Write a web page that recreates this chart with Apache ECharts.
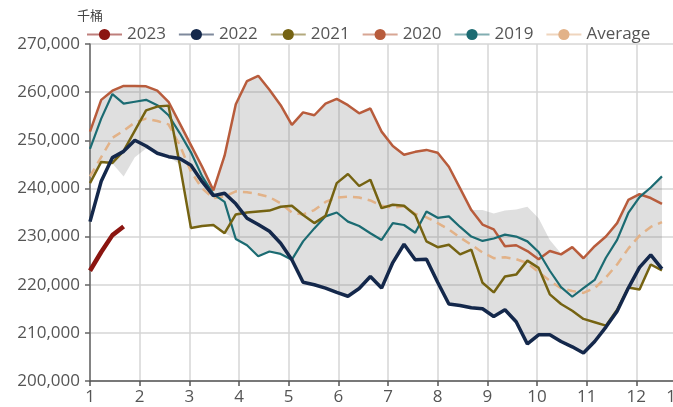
<!DOCTYPE html>
<html><head><meta charset="utf-8">
<script src="https://cdn.jsdelivr.net/npm/echarts@6/dist/echarts.min.js"></script>
<style>html,body{margin:0;padding:0;background:#fff;overflow:hidden}#c{width:700px;height:407px}</style>
</head><body><div id="c"></div>
<script>
const seriesNames = ['2023','2022','2021','2020','2019','Average'];
const monthTicks = [1,2,3,4,5,6,7,8,9,10,11,12,13];
const unitLabel = '千桶';

const y2023 = [222900, 226800, 230300, 232100];
const y2022 = [233100, 241500, 246400, 247700, 250000, 248800, 247300, 246600, 246200, 244800, 241400, 238500, 239000, 236800, 233800, 232500, 231100, 228600, 225200, 220500, 220000, 219300, 218400, 217600, 219200, 221700, 219300, 224600, 228400, 225200, 225300, 220500, 216000, 215700, 215200, 215000, 213400, 214800, 212300, 207700, 209600, 209600, 208200, 207100, 205800, 208200, 211200, 214500, 219300, 223600, 226200, 223300];
const y2021 = [241100, 245500, 245300, 247800, 252000, 256200, 257000, 257200, 245000, 231800, 232200, 232400, 230700, 234600, 235000, 235200, 235400, 236200, 236400, 234500, 232800, 234300, 241100, 243000, 240500, 241800, 235900, 236600, 236400, 234500, 229000, 227800, 228300, 226300, 227300, 220400, 218400, 221700, 222100, 225000, 223500, 218000, 216000, 214600, 212900, 212200, 211500, 214800, 219400, 219000, 224200, 223000];
const y2020 = [251800, 258400, 260300, 261300, 261300, 261200, 260300, 258000, 253500, 249000, 244500, 239600, 246800, 257500, 262300, 263400, 260500, 257300, 253200, 255800, 255200, 257600, 258600, 257300, 255600, 256600, 251800, 248800, 247000, 247600, 248000, 247400, 244500, 240000, 235500, 232500, 231500, 228000, 228200, 227000, 225300, 227000, 226300, 227800, 225500, 228000, 230000, 232800, 237600, 238800, 238000, 236800];
const y2019 = [248200, 254500, 259600, 257600, 258000, 258400, 257300, 255200, 251500, 247500, 242500, 238800, 237200, 229500, 228200, 225900, 226900, 226400, 225200, 229000, 231700, 234200, 235000, 233100, 232200, 230700, 229300, 232800, 232400, 230800, 235200, 233900, 234200, 232000, 230000, 229100, 229600, 230400, 230000, 229000, 226800, 222900, 219500, 217500, 219300, 221000, 225600, 229300, 234900, 238200, 240200, 242500];
const yAvg = [242500, 246500, 250500, 252000, 253700, 254500, 254000, 253300, 249000, 243500, 240000, 238000, 238300, 239400, 239200, 238800, 238200, 236900, 235000, 234600, 235500, 237200, 238100, 238300, 238100, 237500, 236400, 236000, 236300, 234700, 234000, 232800, 231500, 229800, 228300, 226700, 225500, 225700, 225300, 224500, 222600, 220800, 219300, 218700, 218300, 219300, 221500, 224200, 227500, 230200, 232000, 233000];
const bandHigh = [251800, 258400, 260300, 261300, 261300, 261200, 260300, 258000, 253500, 249000, 244500, 239600, 246800, 257500, 262300, 263400, 260500, 257300, 253200, 255800, 255200, 257600, 258600, 257300, 255600, 256600, 251800, 248800, 247000, 247600, 248000, 247400, 244500, 240000, 235500, 235500, 234800, 235400, 235600, 236200, 233800, 229300, 226500, 227800, 225500, 228000, 230000, 232800, 237600, 238800, 240200, 242500];
const bandLow = [241100, 245400, 245200, 242500, 246500, 248300, 247300, 246600, 245000, 232000, 232200, 232400, 230700, 229500, 228200, 225900, 226900, 226400, 225200, 220500, 220000, 219300, 218400, 217600, 219200, 221700, 219300, 224600, 228400, 225200, 225300, 220500, 216000, 215700, 215200, 215000, 213400, 214800, 212300, 207700, 209600, 209600, 208200, 207100, 205800, 208200, 211200, 214500, 219300, 219000, 224200, 223000];

// week index -> month position (one week = 7/31 of a month)
const xOf = i => 1 + i * 7 / 31;
const pairs = arr => arr.map((v, i) => [xOf(i), v]);

const colors = ['#8b1510', '#14284b', '#756312', '#b85c3c', '#1b6b72', '#e2b288'];
const widths = [4.5, 3.5, 2.5, 2.5, 2.2, 2.5];
const datas = [y2023, y2022, y2021, y2020, y2019, yAvg];
const FONT = 'Open Sans';

const lineSeries = datas.map((d, k) => ({
  name: seriesNames[k], type: 'line', data: pairs(d),
  symbol: 'circle', symbolSize: 14, showSymbol: false,
  itemStyle: { color: colors[k] },
  lineStyle: { color: colors[k], width: widths[k], type: k === 5 ? [9, 6] : 'solid' },
  z: [8, 7, 5, 4, 4, 3][k], animation: false
}));

const band = {
  type: 'custom', silent: true, z: 1, animation: false,
  data: pairs(bandLow),
  renderItem: (params, api) => {
    if (params.dataIndex !== 0) return null;
    const pts = [];
    for (let i = 0; i < bandHigh.length; i++) pts.push(api.coord([xOf(i), bandHigh[i]]));
    for (let i = bandLow.length - 1; i >= 0; i--) pts.push(api.coord([xOf(i), bandLow[i]]));
    return { type: 'polygon', shape: { points: pts }, style: { fill: 'rgba(120,120,120,0.24)' } };
  }
};

const chart = echarts.init(document.getElementById('c'), null, { renderer: 'canvas' });
chart.setOption({
  animation: false,
  textStyle: { fontFamily: FONT },
  grid: { left: 90, right: 14, top: 44, bottom: 26, containLabel: false },
  legend: {
    data: seriesNames, left: 81, top: 21, width: 590, itemWidth: 35, itemHeight: 14, itemGap: 12,
    textStyle: { fontSize: 17, color: '#555', fontFamily: FONT },
    lineStyle: { type: 'solid', opacity: 0.55, width: 2 }
  },
  xAxis: {
    type: 'value', min: monthTicks[0], max: monthTicks[monthTicks.length - 1], interval: 1,
    axisLine: { show: true, lineStyle: { color: '#555', width: 1.5 } },
    axisTick: { show: true, length: 5, lineStyle: { color: '#555', width: 1.5 } },
    axisLabel: {
      fontSize: 17, color: '#555', margin: 8, fontFamily: FONT,
      formatter: v => v === 13 ? '{a|13}' : String(v),
      rich: { a: { fontSize: 17, color: '#555', fontFamily: FONT, padding: [0, 20, 0, 0] } }
    },
    splitLine: { show: true, lineStyle: { color: '#d6d6d6', width: 1.5 } }
  },
  yAxis: {
    type: 'value', min: 200000, max: 270000, interval: 10000,
    name: unitLabel, nameLocation: 'end', nameGap: 22,
    nameTextStyle: { fontSize: 13, color: '#444', fontFamily: '"Noto Sans CJK SC"', align: 'center' },
    axisLine: { show: true, lineStyle: { color: '#666', width: 1.5 } },
    axisTick: { show: true, length: 5, lineStyle: { color: '#666', width: 1.5 } },
    axisLabel: { fontSize: 17, color: '#555', margin: 10, fontFamily: FONT, formatter: v => v.toLocaleString('en-US') },
    splitLine: { show: true, lineStyle: { color: '#d6d6d6', width: 1.5 } }
  },
  series: [band].concat(lineSeries)
});
</script></body></html>
